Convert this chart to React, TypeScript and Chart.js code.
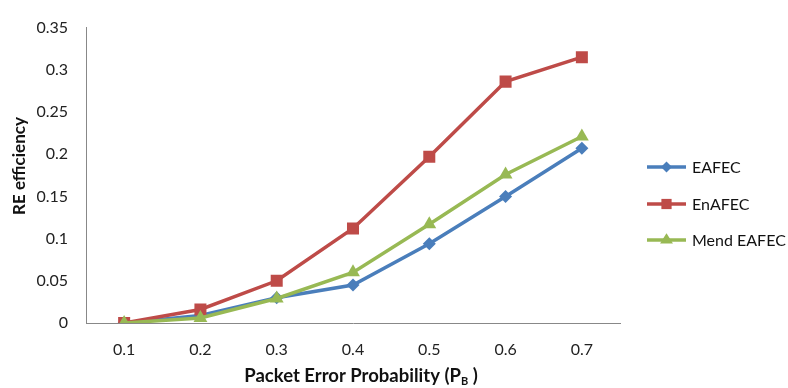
import React, { useEffect, useRef } from "react";
import { Chart, registerables } from "chart.js";

Chart.register(...registerables);

const categories = ["0.1", "0.2", "0.3", "0.4", "0.5", "0.6", "0.7"];
const eafec = [0.0, 0.009, 0.03, 0.045, 0.094, 0.15, 0.207];
const enafec = [0.0, 0.016, 0.05, 0.112, 0.197, 0.286, 0.315];
const mendEafec = [0.0, 0.006, 0.029, 0.06, 0.117, 0.176, 0.221];
const seriesNames = ["EAFEC", "EnAFEC", "Mend EAFEC"];
const colors = ["#4A7EBB", "#BE4B48", "#98B954"];
const pointStyles = ["rectRot", "rect", "triangle"];
const pointRadii = [6.5, 8.5, 8];

const FONT = "Lato, 'Open Sans', sans-serif";

function drawMarker(ctx: CanvasRenderingContext2D, style: string, x: number, y: number, r: number, color: string) {
  ctx.save();
  ctx.fillStyle = color;
  ctx.beginPath();
  if (style === "rect") {
    const s = r * Math.SQRT1_2;
    ctx.rect(x - s, y - s, 2 * s, 2 * s);
  } else if (style === "rectRot") {
    ctx.moveTo(x, y - r);
    ctx.lineTo(x + r, y);
    ctx.lineTo(x, y + r);
    ctx.lineTo(x - r, y);
    ctx.closePath();
  } else {
    const h = r * 1.5;
    ctx.moveTo(x, y - h * 0.66);
    ctx.lineTo(x + r * 0.95, y + h * 0.34);
    ctx.lineTo(x - r * 0.95, y + h * 0.34);
    ctx.closePath();
  }
  ctx.fill();
  ctx.restore();
}

const overlayPlugin = {
  id: "overlay",
  afterDraw(chart: any) {
    const ctx: CanvasRenderingContext2D = chart.ctx;
    const area = chart.chartArea;
    ctx.save();
    // legend
    const legendY = [167, 204, 240];
    for (let i = 0; i < 3; i++) {
      const y = legendY[i];
      ctx.strokeStyle = colors[i];
      ctx.lineWidth = 3.5;
      ctx.beginPath();
      ctx.moveTo(647, y);
      ctx.lineTo(686, y);
      ctx.stroke();
      drawMarker(ctx, pointStyles[i], 666.5, y, pointRadii[i] * 0.85, colors[i]);
      ctx.fillStyle = "#111";
      ctx.font = `16px ${FONT}`;
      ctx.textAlign = "left";
      ctx.textBaseline = "middle";
      ctx.fillText(seriesNames[i], 692, y + 1);
    }
    // x title with subscript
    ctx.fillStyle = "#111";
    ctx.textBaseline = "alphabetic";
    const main = "Packet Error Probability (P";
    const sub = "B";
    const tail = " )";
    const big = `bold 18.5px ${FONT}`;
    const small = `bold 11px ${FONT}`;
    ctx.font = big;
    const w1 = ctx.measureText(main).width;
    const w3 = ctx.measureText(tail).width;
    ctx.font = small;
    const w2 = ctx.measureText(sub).width;
    const total = w1 + w2 + w3;
    let x = (area.left + area.right) / 2 - total / 2 + 8;
    const base = 382;
    ctx.textAlign = "left";
    ctx.font = big;
    ctx.fillText(main, x, base);
    x += w1;
    ctx.font = small;
    ctx.fillText(sub, x, base + 3);
    x += w2;
    ctx.font = big;
    ctx.fillText(tail, x, base);
    // y title
    ctx.translate(20, 166);
    ctx.rotate(-Math.PI / 2);
    ctx.textAlign = "center";
    ctx.textBaseline = "middle";
    ctx.font = `bold 17px ${FONT}`;
    ctx.fillText("RE efficiency", 0, 0);
    ctx.restore();
  },
};

export default function App() {
  const ref = useRef<HTMLCanvasElement | null>(null);
  useEffect(() => {
    if (!ref.current) return;
    const data = [eafec, enafec, mendEafec];
    const chart = new Chart(ref.current, {
      type: "line",
      data: {
        labels: categories,
        datasets: data.map((d, i) => ({
          label: seriesNames[i],
          data: d,
          borderColor: colors[i],
          backgroundColor: colors[i],
          borderWidth: 3.5,
          pointStyle: pointStyles[i] as any,
          pointRadius: pointRadii[i],
          pointBorderWidth: 0,
          pointBackgroundColor: colors[i],
          tension: 0,
          fill: false,
          order: 3 - i,
        })),
      },
      plugins: [overlayPlugin],
      options: {
        responsive: false,
        animation: false,
        layout: { padding: { top: 22, right: 168, left: 0, bottom: 0 } },
        plugins: {
          legend: { display: false },
          tooltip: { enabled: false },
        },
        scales: {
          x: {
            type: "category",
            offset: true,
            grid: { display: false, drawTicks: false },
            border: { display: true, color: "#888", width: 1 },
            ticks: { color: "#222", font: { family: FONT, size: 16 }, padding: 17, maxRotation: 0 },
            afterFit: (s: any) => {
              s.height = 65;
            },
          },
          y: {
            min: 0,
            max: 0.35,
            grid: { display: false, drawTicks: false },
            border: { display: true, color: "#888", width: 1 },
            ticks: {
              stepSize: 0.05,
              color: "#222",
              font: { family: FONT, size: 16 },
              padding: 18,
              callback: (v: any) => String(+Number(v).toFixed(2)),
            },
            afterFit: (s: any) => {
              s.width = 86;
            },
          },
        },
      },
    });
    return () => chart.destroy();
  }, []);
  return (
    <div style={{ position: "absolute", left: 0, top: 0, width: 788, height: 388, background: "#fff" }}>
      <canvas ref={ref} width={788} height={388} style={{ width: 788, height: 388, display: "block" }} />
    </div>
  );
}
